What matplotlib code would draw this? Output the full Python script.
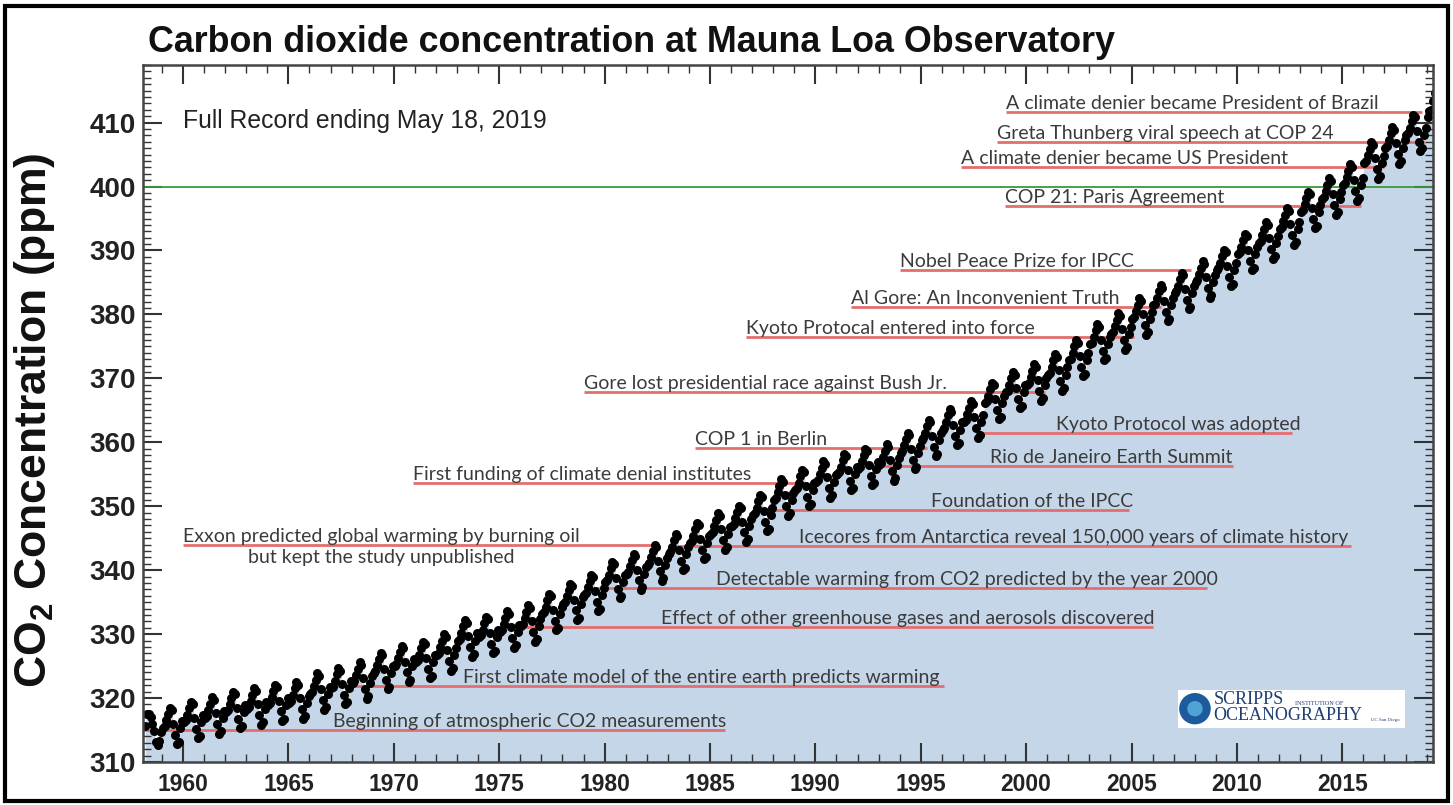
import matplotlib
matplotlib.use("Agg")
import matplotlib.pyplot as plt
from matplotlib.patches import Rectangle, Ellipse
from matplotlib.ticker import MultipleLocator
from matplotlib.transforms import offset_copy

plt.rcParams['font.family'] = ['Liberation Sans', 'DejaVu Sans']
plt.rcParams['mathtext.default'] = 'regular'

# monthly CO2 (ppm) at Mauna Loa, one row per year, record starts March 1958, ends May 2019
first_year = 1958
first_month = 3
co2_rows = [
    [315.7, 317.5, 317.5, 317.1, 315.9, 314.9, 313.2, 312.7, 313.3, 314.7],
    [315.3, 315.6, 316.5, 317.5, 318.5, 318.1, 316.0, 314.3, 312.8, 313.2, 315.3, 316.4],
    [316.2, 316.5, 317.4, 318.4, 319.4, 319.0, 316.9, 315.2, 313.7, 314.1, 316.2, 317.3],
    [316.9, 317.2, 318.1, 319.1, 320.1, 319.7, 317.6, 315.9, 314.4, 314.8, 316.9, 318.0],
    [317.8, 318.1, 319.0, 320.0, 321.0, 320.6, 318.5, 316.8, 315.3, 315.7, 317.8, 318.9],
    [318.3, 318.6, 319.5, 320.5, 321.5, 321.1, 319.0, 317.3, 315.8, 316.2, 318.3, 319.4],
    [318.9, 319.2, 320.1, 321.1, 322.1, 321.7, 319.6, 317.9, 316.4, 316.8, 318.9, 320.0],
    [319.3, 319.6, 320.5, 321.5, 322.5, 322.1, 320.0, 318.3, 316.8, 317.2, 319.3, 320.4],
    [320.7, 321.0, 321.9, 322.9, 323.9, 323.5, 321.4, 319.7, 318.2, 318.6, 320.7, 321.8],
    [321.5, 321.8, 322.7, 323.7, 324.7, 324.3, 322.2, 320.5, 319.0, 319.4, 321.5, 322.6],
    [322.4, 322.7, 323.6, 324.6, 325.6, 325.2, 323.1, 321.4, 319.9, 320.3, 322.4, 323.5],
    [323.9, 324.2, 325.1, 326.1, 327.1, 326.7, 324.6, 322.9, 321.4, 321.8, 323.9, 325.0],
    [325.0, 325.3, 326.2, 327.2, 328.2, 327.8, 325.7, 324.0, 322.5, 322.9, 325.0, 326.1],
    [325.6, 325.9, 326.8, 327.8, 328.8, 328.4, 326.3, 324.6, 323.1, 323.5, 325.6, 326.7],
    [326.8, 327.1, 328.0, 329.0, 330.0, 329.6, 327.5, 325.8, 324.3, 324.7, 326.8, 327.9],
    [329.0, 329.3, 330.2, 331.2, 332.2, 331.8, 329.7, 328.0, 326.5, 326.9, 329.0, 330.1],
    [329.5, 329.8, 330.7, 331.7, 332.7, 332.3, 330.2, 328.5, 327.0, 327.4, 329.5, 330.6],
    [330.4, 330.7, 331.6, 332.6, 333.6, 333.2, 331.1, 329.4, 327.9, 328.3, 330.4, 331.5],
    [331.3, 331.6, 332.5, 333.5, 334.5, 334.1, 332.0, 330.3, 328.8, 329.2, 331.3, 332.4],
    [333.1, 333.4, 334.3, 335.3, 336.3, 335.9, 333.8, 332.1, 330.6, 331.0, 333.1, 334.2],
    [334.7, 335.0, 335.9, 336.9, 337.9, 337.5, 335.4, 333.7, 332.2, 332.6, 334.7, 335.8],
    [336.1, 336.4, 337.3, 338.3, 339.3, 338.9, 336.8, 335.1, 333.6, 334.0, 336.1, 337.2],
    [338.1, 338.4, 339.3, 340.3, 341.3, 340.9, 338.8, 337.1, 335.6, 336.0, 338.1, 339.2],
    [339.4, 339.7, 340.6, 341.6, 342.6, 342.2, 340.1, 338.4, 336.9, 337.3, 339.4, 340.5],
    [340.8, 341.1, 342.0, 343.0, 344.0, 343.6, 341.5, 339.8, 338.3, 338.7, 340.8, 341.9],
    [342.5, 342.8, 343.7, 344.7, 345.7, 345.3, 343.2, 341.5, 340.0, 340.4, 342.5, 343.6],
    [344.2, 344.5, 345.4, 346.4, 347.4, 347.0, 344.9, 343.2, 341.7, 342.1, 344.2, 345.3],
    [345.7, 346.0, 346.9, 347.9, 348.9, 348.5, 346.4, 344.7, 343.2, 343.6, 345.7, 346.8],
    [346.9, 347.2, 348.1, 349.1, 350.1, 349.7, 347.6, 345.9, 344.4, 344.8, 346.9, 348.0],
    [348.6, 348.9, 349.8, 350.8, 351.8, 351.4, 349.3, 347.6, 346.1, 346.5, 348.6, 349.7],
    [351.0, 351.3, 352.2, 353.2, 354.2, 353.8, 351.7, 350.0, 348.5, 348.9, 351.0, 352.1],
    [352.5, 352.8, 353.7, 354.7, 355.7, 355.3, 353.2, 351.5, 350.0, 350.4, 352.5, 353.6],
    [353.8, 354.1, 355.0, 356.0, 357.0, 356.6, 354.5, 352.8, 351.3, 351.7, 353.8, 354.9],
    [355.0, 355.3, 356.2, 357.2, 358.2, 357.8, 355.7, 354.0, 352.5, 352.9, 355.0, 356.1],
    [355.8, 356.1, 357.0, 358.0, 359.0, 358.6, 356.5, 354.8, 353.3, 353.7, 355.8, 356.9],
    [356.5, 356.8, 357.7, 358.7, 359.7, 359.3, 357.2, 355.5, 354.0, 354.4, 356.5, 357.6],
    [358.3, 358.6, 359.5, 360.5, 361.5, 361.1, 359.0, 357.3, 355.8, 356.2, 358.3, 359.4],
    [360.3, 360.6, 361.5, 362.5, 363.5, 363.1, 361.0, 359.3, 357.8, 358.2, 360.3, 361.4],
    [362.0, 362.3, 363.2, 364.2, 365.2, 364.8, 362.7, 361.0, 359.5, 359.9, 362.0, 363.1],
    [363.2, 363.5, 364.4, 365.4, 366.4, 366.0, 363.9, 362.2, 360.7, 361.1, 363.2, 364.3],
    [366.1, 366.4, 367.3, 368.3, 369.3, 368.9, 366.8, 365.1, 363.6, 364.0, 366.1, 367.2],
    [367.8, 368.1, 369.0, 370.0, 371.0, 370.6, 368.5, 366.8, 365.3, 365.7, 367.8, 368.9],
    [369.0, 369.3, 370.2, 371.2, 372.2, 371.8, 369.7, 368.0, 366.5, 366.9, 369.0, 370.1],
    [370.6, 370.9, 371.8, 372.8, 373.8, 373.4, 371.3, 369.6, 368.1, 368.5, 370.6, 371.7],
    [372.8, 373.1, 374.0, 375.0, 376.0, 375.6, 373.5, 371.8, 370.3, 370.7, 372.8, 373.9],
    [375.3, 375.6, 376.5, 377.5, 378.5, 378.1, 376.0, 374.3, 372.8, 373.2, 375.3, 376.4],
    [377.0, 377.3, 378.2, 379.2, 380.2, 379.8, 377.7, 376.0, 374.5, 374.9, 377.0, 378.1],
    [379.3, 379.6, 380.5, 381.5, 382.5, 382.1, 380.0, 378.3, 376.8, 377.2, 379.3, 380.4],
    [381.4, 381.7, 382.6, 383.6, 384.6, 384.2, 382.1, 380.4, 378.9, 379.3, 381.4, 382.5],
    [383.3, 383.6, 384.5, 385.5, 386.5, 386.1, 384.0, 382.3, 380.8, 381.2, 383.3, 384.4],
    [385.1, 385.4, 386.3, 387.3, 388.3, 387.9, 385.8, 384.1, 382.6, 383.0, 385.1, 386.2],
    [386.9, 387.2, 388.1, 389.1, 390.1, 389.7, 387.6, 385.9, 384.4, 384.8, 386.9, 388.0],
    [389.4, 389.7, 390.6, 391.6, 392.6, 392.2, 390.1, 388.4, 386.9, 387.3, 389.4, 390.5],
    [391.2, 391.5, 392.4, 393.4, 394.4, 394.0, 391.9, 390.2, 388.7, 389.1, 391.2, 392.3],
    [393.4, 393.7, 394.6, 395.6, 396.6, 396.2, 394.1, 392.4, 390.9, 391.3, 393.4, 394.5],
    [396.0, 396.3, 397.2, 398.2, 399.2, 398.8, 396.7, 395.0, 393.5, 393.9, 396.0, 397.1],
    [398.1, 398.4, 399.3, 400.3, 401.3, 400.9, 398.8, 397.1, 395.6, 396.0, 398.1, 399.2],
    [400.3, 400.6, 401.5, 402.5, 403.5, 403.1, 401.0, 399.3, 397.8, 398.2, 400.3, 401.4],
    [403.7, 404.0, 404.9, 405.9, 406.9, 406.5, 404.4, 402.7, 401.2, 401.6, 403.7, 404.8],
    [406.1, 406.4, 407.3, 408.3, 409.3, 408.9, 406.8, 405.1, 403.6, 404.0, 406.1, 407.2],
    [408.0, 408.4, 409.2, 410.2, 411.2, 410.8, 408.7, 407.0, 405.5, 406.0, 408.0, 409.1],
    [410.8, 411.8, 412.0, 413.3, 414.7],
]

# events: label, text left edge (year), line level (ppm), red line from / to (year)
ann_labels = [
    "A climate denier became President of Brazil",
    "Greta Thunberg viral speech at COP 24",
    "A climate denier became US President",
    "COP 21: Paris Agreement",
    "Nobel Peace Prize for IPCC",
    "Al Gore: An Inconvenient Truth",
    "Kyoto Protocal entered into force",
    "Gore lost presidential race against Bush Jr.",
    "Kyoto Protocol was adopted",
    "COP 1 in Berlin",
    "Rio de Janeiro Earth Summit",
    "First funding of climate denial institutes",
    "Foundation of the IPCC",
    "Exxon predicted global warming by burning oil",
    "Icecores from Antarctica reveal 150,000 years of climate history",
    "Detectable warming from CO2 predicted by the year 2000",
    "Effect of other greenhouse gases and aerosols discovered",
    "First climate model of the entire earth predicts warming",
    "Beginning of atmospheric CO2 measurements",
]
ann_text_x = [1999.05, 1998.6, 1996.9, 1999.0, 1994.0, 1991.7, 1986.7, 1979.0, 2001.4, 1984.3,
              1998.3, 1970.9, 1995.5, 1960.0, 1989.2, 1985.3, 1982.7, 1973.3, 1967.1]
ann_ppm = [411.6, 407.0, 403.0, 396.9, 387.0, 381.2, 376.4, 367.9, 361.5, 359.1,
           356.3, 353.7, 349.4, 344.0, 343.8, 337.2, 331.1, 321.9, 315.0]
ann_x0 = [1999.05, 1998.6, 1996.9, 1999.0, 1994.0, 1991.7, 1986.7, 1979.0, 1997.9, 1984.3,
          1992.5, 1970.9, 1988.0, 1960.0, 1983.0, 1979.5, 1976.0, 1967.0, 1958.1]
ann_x1 = [2018.8, 2018.9, 2017.0, 2015.9, 2007.8, 2006.4, 2005.1, 2000.9, 2012.6, 1995.3,
          2009.8, 1989.5, 2004.9, 1982.2, 2015.4, 2008.6, 2006.0, 1996.1, 1985.7]

# dates for each monthly value
dates = []
values = []
for i, row in enumerate(co2_rows):
    m0 = first_month if i == 0 else 1
    for j, v in enumerate(row):
        dates.append(first_year + i + (m0 + j - 0.5) / 12)
        values.append(v)

fig = plt.figure(figsize=(14.53, 8.05), dpi=100)
ax = fig.add_axes([0.0984, 0.0534, 0.8878, 0.8658])

ax.fill_between(dates, values, 300, color='#c5d6e9', lw=0, zorder=1)
ax.axhline(400, color='#3a9a3a', lw=1.3, zorder=2)

for lab, tx, ppm, x0, x1 in zip(ann_labels, ann_text_x, ann_ppm, ann_x0, ann_x1):
    ax.plot([x0, x1], [ppm, ppm], color='#e46e6e', lw=2, zorder=2, solid_capstyle='butt')
    tr = offset_copy(ax.transData, fig=fig, x=0, y=3, units='dots')
    ax.text(tx, ppm, lab, transform=tr, fontsize=14, family='Lato', color='#3b3b3b',
            va='baseline', ha='left', zorder=4)

ax.text(1969.4, 341.2, "but kept the study unpublished", fontsize=14, family='Lato',
        color='#3b3b3b', va='baseline', ha='center', zorder=4)

ax.plot(dates, values, 'o', color='black', ms=6.5, mew=0, zorder=3)

ax.text(1960.0, 410.2, "Full Record ending May 18, 2019", fontsize=17.8, color='#222222',
        va='center', ha='left')

# Scripps logo box
ax.add_patch(Rectangle((0.802, 0.049), 0.176, 0.055, transform=ax.transAxes,
                       facecolor='white', edgecolor='none', zorder=4))
ax.add_patch(Ellipse((0.8155, 0.0765), 0.0245, 0.045, transform=ax.transAxes,
                     facecolor='#1d5c9c', edgecolor='none', zorder=5))
ax.add_patch(Ellipse((0.8155, 0.0765), 0.012, 0.022, transform=ax.transAxes,
                     facecolor='#4fa3d6', edgecolor='none', zorder=5))
ax.text(0.830, 0.078, "SCRIPPS", transform=ax.transAxes, family='Liberation Serif',
        fontsize=13, color='#1f3f73', va='bottom', ha='left', zorder=6)
ax.text(0.893, 0.081, "INSTITUTION OF", transform=ax.transAxes, family='Liberation Serif',
        fontsize=4.5, color='#1f3f73', va='bottom', ha='left', zorder=6)
ax.text(0.830, 0.055, "OCEANOGRAPHY", transform=ax.transAxes, family='Liberation Serif',
        fontsize=13, color='#1f3f73', va='bottom', ha='left', zorder=6)
ax.text(0.952, 0.057, "UC San Diego", transform=ax.transAxes, family='Liberation Serif',
        fontsize=3.5, color='#1f3f73', va='bottom', ha='left', zorder=6)

ax.set_xlim(1958.1, 2019.3)
ax.set_ylim(310, 419)
ax.xaxis.set_major_locator(MultipleLocator(5))
ax.xaxis.set_minor_locator(MultipleLocator(1))
ax.yaxis.set_major_locator(MultipleLocator(10))
ax.yaxis.set_minor_locator(MultipleLocator(1))
ax.tick_params(which='both', direction='in', top=True, right=True, color='#333333')
ax.tick_params(which='major', length=14, width=1.5)
ax.tick_params(which='minor', length=6, width=1)
ax.tick_params(axis='x', labelsize=16.5, pad=8)
ax.tick_params(axis='y', labelsize=20, pad=5)
for lab in ax.get_xticklabels() + ax.get_yticklabels():
    lab.set_fontweight('bold')
    lab.set_color('#222222')
for sp in ax.spines.values():
    sp.set_linewidth(1.8)
    sp.set_color('#444444')
    sp.set_zorder(5)

fig.text(148 / 1453, 1 - 42 / 805, "Carbon dioxide concentration at Mauna Loa Observatory",
         fontsize=25.8, fontweight='bold', color='#111111', va='center', ha='left')
fig.text(35 / 1453, 1 - 420 / 805, r"CO$_2$ Concentration (ppm)", fontsize=32,
         fontweight='bold', rotation=90, va='center', ha='center', color='#111111')

fig.patches.append(Rectangle((0.0031, 0.005), 0.9935, 0.987, transform=fig.transFigure,
                             fill=False, edgecolor='black', lw=3))

fig.savefig('out.png', dpi=100)
